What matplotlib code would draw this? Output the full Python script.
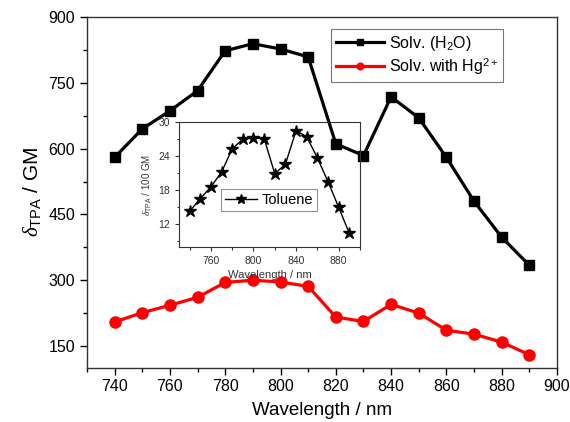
import matplotlib.pyplot as plt
from matplotlib.ticker import MultipleLocator

plt.rcParams['font.family'] = ['Liberation Sans', 'DejaVu Sans']
plt.rcParams['mathtext.fontset'] = 'custom'
plt.rcParams['mathtext.rm'] = 'Liberation Sans'
plt.rcParams['mathtext.it'] = 'Liberation Serif:italic'

wavelength = [740, 750, 760, 770, 780, 790, 800, 810, 820, 830, 840, 850, 860, 870, 880, 890]
# two-photon cross sections (GM)
water = [580, 645, 686, 732, 823, 839, 827, 809, 611, 584, 718, 670, 580, 480, 398, 334]
with_hg = [205, 226, 243, 261, 295, 300, 296, 286, 216, 206, 245, 225, 186, 177, 159, 130]
# toluene, in units of 100 GM
toluene = [14.3, 16.5, 18.6, 21.2, 25.3, 27.0, 27.2, 27.1, 20.9, 22.6, 28.5, 27.4, 23.7, 19.5, 15.0, 10.4]

fig = plt.figure(figsize=(5.7, 4.22), dpi=100)
ax = fig.add_axes([0.1526, 0.128, 0.8246, 0.8318])

ax.plot(wavelength, water, color='black', lw=2.3, marker='s', ms=7, label='Solv. (H$_2$O)', zorder=5)
ax.plot(wavelength, with_hg, color='#ff0000', lw=2.3, marker='o', ms=8, label='Solv. with Hg$^{2+}$', zorder=5)

ax.set_xlim(730, 900)
ax.set_ylim(100, 900)
ax.xaxis.set_major_locator(MultipleLocator(20))
ax.xaxis.set_minor_locator(MultipleLocator(10))
ax.yaxis.set_major_locator(MultipleLocator(150))
ax.yaxis.set_minor_locator(MultipleLocator(75))
ax.tick_params(which='major', direction='out', length=5, width=1, labelsize=11.5)
ax.tick_params(which='minor', direction='out', length=3, width=1)
ax.tick_params(axis='x', pad=3)
for s in ax.spines.values():
    s.set_linewidth(1.0)
    s.set_color('#333333')

ax.set_xlabel('Wavelength / nm', fontsize=13.5, labelpad=6)
ax.set_ylabel(r'$\delta_{\rm TPA}$ / GM', fontsize=15, labelpad=4)

leg = ax.legend(loc='upper right', bbox_to_anchor=(0.885, 0.966), fontsize=11.5,
                frameon=True, fancybox=False, handlelength=3.0, borderpad=0.3,
                labelspacing=0.2, handletextpad=0.3, markerscale=0.6, borderaxespad=0)
leg.get_frame().set_edgecolor('#555555')
leg.get_frame().set_linewidth(0.8)

# inset: toluene solution
ins = fig.add_axes([0.314, 0.4147, 0.3175, 0.296])
ins.set_facecolor('none')
ins.plot(wavelength, toluene, color='black', lw=1.0, marker='*', ms=9, label='Toluene')
ins.set_xlim(730, 900)
ins.set_ylim(8, 30)
ins.xaxis.set_major_locator(MultipleLocator(40))
ins.xaxis.set_minor_locator(MultipleLocator(20))
ins.yaxis.set_major_locator(MultipleLocator(6))
ins.yaxis.set_minor_locator(MultipleLocator(3))
ins.set_yticks([12, 18, 24, 30])
ins.tick_params(which='major', direction='out', length=3, width=0.8, labelsize=7.5, colors='#333333')
ins.tick_params(which='minor', direction='out', length=1.8, width=0.8, colors='#333333')
for s in ins.spines.values():
    s.set_linewidth(0.8)
    s.set_color('#333333')
ins.set_xlabel('Wavelength / nm', fontsize=8, color='#333333', labelpad=3)
ins.set_ylabel(r'$\delta_{\rm TPA}$ / 100 GM', fontsize=7, color='#333333', labelpad=3)
ileg = ins.legend(loc='center', bbox_to_anchor=(0.497, 0.376), fontsize=10.5,
                  frameon=True, fancybox=False, handlelength=2.2, borderpad=0.25,
                  handletextpad=0.3, markerscale=0.8, borderaxespad=0)
ileg.get_frame().set_edgecolor('#777777')
ileg.get_frame().set_linewidth(0.8)

fig.savefig('out.png', dpi=100)
